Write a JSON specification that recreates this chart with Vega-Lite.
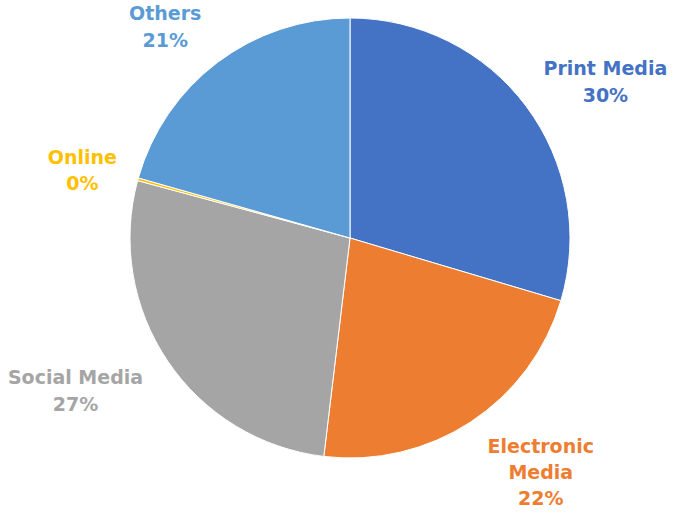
{
  "$schema": "https://vega.github.io/schema/vega-lite/v6.json",
  "width": 640,
  "height": 476,
  "autosize": "none",
  "padding": {"left": 30, "top": 0, "right": 10, "bottom": 37},
  "background": "white",
  "view": {"stroke": null},
  "config": {"text": {"lineBreak": "\n"}},
  "data": {"values": [
    {"idx": 1, "cat": "Print Media", "value": 29.6, "label": "Print Media\n30%"},
    {"idx": 2, "cat": "Electronic Media", "value": 22.3, "label": "Electronic\nMedia\n22%"},
    {"idx": 3, "cat": "Social Media", "value": 27.3, "label": "Social Media\n27%"},
    {"idx": 4, "cat": "Online", "value": 0.2, "label": "Online\n0%"},
    {"idx": 5, "cat": "Others", "value": 20.6, "label": "Others\n21%"}
  ]},
  "encoding": {
    "theta": {"field": "value", "type": "quantitative", "stack": true},
    "order": {"field": "idx", "type": "quantitative"},
    "color": {
      "field": "cat", "type": "nominal", "legend": null,
      "scale": {
        "domain": ["Print Media", "Electronic Media", "Social Media", "Online", "Others"],
        "range": ["#4472C4", "#ED7D31", "#A5A5A5", "#FFC000", "#5B9BD5"]
      }
    }
  },
  "layer": [
    {"mark": {"type": "arc", "outerRadius": 220, "stroke": "white", "strokeWidth": 1}},
    {"mark": {"type": "text", "lineBreak": "\n", "radius": 260, "dx": 47, "dy": -14, "font": "DejaVu Sans", "fontWeight": "bold", "fontSize": 19, "lineHeight": 27, "baseline": "middle", "align": "center"},
     "encoding": {"text": {"condition": {"test": "datum.cat === 'Print Media'", "field": "label"}, "value": ""}}},
    {"mark": {"type": "text", "lineBreak": "\n", "radius": 260, "dx": 48, "dy": -8, "font": "DejaVu Sans", "fontWeight": "bold", "fontSize": 19, "lineHeight": 26, "baseline": "middle", "align": "center"},
     "encoding": {"text": {"condition": {"test": "datum.cat === 'Electronic Media'", "field": "label"}, "value": ""}}},
    {"mark": {"type": "text", "lineBreak": "\n", "radius": 260, "dx": -59, "dy": -5, "font": "DejaVu Sans", "fontWeight": "bold", "fontSize": 19, "lineHeight": 27, "baseline": "middle", "align": "center"},
     "encoding": {"text": {"condition": {"test": "datum.cat === 'Social Media'", "field": "label"}, "value": ""}}},
    {"mark": {"type": "text", "lineBreak": "\n", "radius": 260, "dx": -17, "dy": -11, "font": "DejaVu Sans", "fontWeight": "bold", "fontSize": 19, "lineHeight": 26, "baseline": "middle", "align": "center"},
     "encoding": {"text": {"condition": {"test": "datum.cat === 'Online'", "field": "label"}, "value": ""}}},
    {"mark": {"type": "text", "lineBreak": "\n", "radius": 260, "dx": -28, "dy": -17, "font": "DejaVu Sans", "fontWeight": "bold", "fontSize": 19, "lineHeight": 27, "baseline": "middle", "align": "center"},
     "encoding": {"text": {"condition": {"test": "datum.cat === 'Others'", "field": "label"}, "value": ""}}}
  ]
}
